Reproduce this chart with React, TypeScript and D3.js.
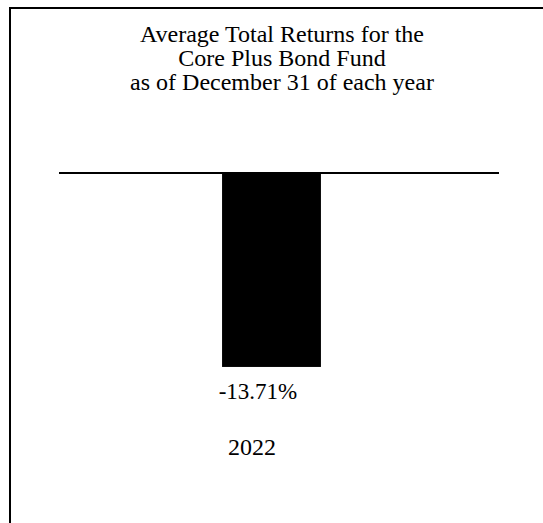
import React from "react";
import * as d3 from "d3";

const titleLines = ["Average Total Returns for the", "Core Plus Bond Fund", "as of December 31 of each year"];
const years = ["2022"];
const returns = [-13.71];
const yDomain = [-15, 0];

const W = 543;
const H = 523;
const FONT = "Liberation Serif";

export default function App() {
  const x = d3
    .scaleBand<string>()
    .domain(years)
    .range([59, 499])
    .paddingInner(0.633)
    .paddingOuter(0.633)
    .align(0.478);
  const y = d3.scaleLinear().domain(yDomain).range([385.2, 173]);
  const fmt = (v: number) => `${v.toFixed(2)}%`;
  const ts = { fontFamily: FONT };
  return (
    <svg width={W} height={H} style={{ position: "absolute", left: 0, top: 0 }}>
      <rect x={0} y={0} width={W} height={H} fill="#fff" />
      <rect x={10} y={8} width={W + 50} height={H + 50} fill="none" stroke="#000" strokeWidth={2} />
      {titleLines.map((t, i) => (
        <text key={i} x={282} y={42 + i * 24} textAnchor="middle" fontSize={24} fill="#000" style={ts}>
          {t}
        </text>
      ))}
      {returns.map((v, i) => {
        const bx = x(years[i])!;
        const bw = x.bandwidth();
        const y0 = y(0);
        const y1 = y(v);
        return (
          <g key={i}>
            <rect x={bx} y={Math.min(y0, y1)} width={bw} height={Math.abs(y1 - y0)} fill="#000" />
            <text x={bx + bw / 2 - 13.5} y={y1 + 32} textAnchor="middle" fontSize={23} fill="#000" style={ts}>
              {fmt(v)}
            </text>
            <text x={bx + bw / 2 - 19.5} y={455} textAnchor="middle" fontSize={24} fill="#000" style={ts}>
              {years[i]}
            </text>
          </g>
        );
      })}
      <line x1={59} x2={499} y1={y(0)} y2={y(0)} stroke="#000" strokeWidth={2} />
    </svg>
  );
}
